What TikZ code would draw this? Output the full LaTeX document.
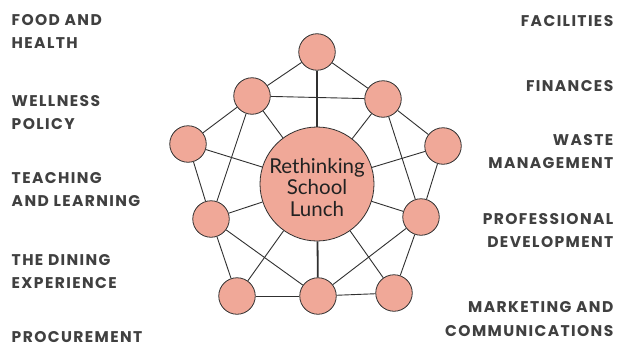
\documentclass[tikz,border=0pt]{standalone}
\usepackage{fontspec}
\setmainfont{Lato}
\newfontfamily\labelfamily{Poppins}[LetterSpace=9]
\definecolor{salmon}{HTML}{F0A898}
\definecolor{edgegray}{HTML}{303030}
\definecolor{labelgray}{HTML}{404040}
\definecolor{centertext}{HTML}{222222}
\begin{document}
\begin{tikzpicture}[x=1pt,y=-1pt,
  smallnode/.style={circle,draw=edgegray,line width=0.8pt,fill=salmon,minimum size=36.5pt,inner sep=0pt},
  bignode/.style={circle,draw=edgegray,line width=0.8pt,fill=salmon,minimum size=114pt,inner sep=0pt},
  centerlabel/.style={align=center,inner sep=0pt,text=centertext,font=\fontsize{20.5}{21.5}\selectfont},
  link/.style={draw=edgegray,line width=0.9pt},
  thicklink/.style={draw=edgegray,line width=1.8pt},
  leftlabel/.style={anchor=base west,align=left,inner sep=0pt,text=labelgray,
    font=\labelfamily\bfseries\fontsize{15.5}{23.5}\selectfont},
  rightlabel/.style={anchor=base east,align=right,inner sep=0pt,text=labelgray,
    font=\labelfamily\bfseries\fontsize{15.5}{23.5}\selectfont}]
\useasboundingbox (0,0) rectangle (617,345);
\fill[white] (0,0) rectangle (617,345);

% nodes
\node[bignode] (C) at (317,184) {};
\node[centerlabel] (Ctext) at (317,187.5) {Rethinking\\School\\Lunch};
\node[smallnode] (T)  at (317,52) {};
\node[smallnode] (UL) at (252,96) {};
\node[smallnode] (UR) at (383,99) {};
\node[smallnode] (L)  at (188,144) {};
\node[smallnode] (R)  at (443,146) {};
\node[smallnode] (ML) at (211,219) {};
\node[smallnode] (MR) at (421,217) {};
\node[smallnode] (BL) at (237,296) {};
\node[smallnode] (BC) at (318,296) {};
\node[smallnode] (BR) at (394,293) {};

% connectors
\draw[thicklink] (T) -- (C);
\draw[thicklink] (BC) -- (C);
\draw[link] (T) -- (UL);
\draw[link] (T) -- (UR);
\draw[link] (UL) -- (UR);
\draw[link] (UL) -- (L);
\draw[link] (UL) -- (C);
\draw[link] (UL) -- (ML);
\draw[link] (UR) -- (C);
\draw[link] (UR) -- (R);
\draw[link] (UR) -- (MR);
\draw[link] (L) -- (C);
\draw[link] (L) -- (ML);
\draw[link] (R) -- (C);
\draw[link] (R) -- (MR);
\draw[link] (ML) -- (C);
\draw[link] (ML) -- (BL);
\draw[link] (ML) -- (BC);
\draw[link] (MR) -- (C);
\draw[link] (MR) -- (BR);
\draw[link] (MR) -- (BC);
\draw[link] (BL) -- (C);
\draw[link] (BR) -- (C);
\draw[link] (BL) -- (BC);
\draw[link] (BC) -- (BR);

% labels (base anchor = baseline of last line)
\node[leftlabel] (food) at (11.5,48.8) {FOOD AND\\HEALTH};
\node[leftlabel] (well) at (11.5,129.5) {WELLNESS\\POLICY};
\node[leftlabel] (teach) at (11.5,206.8) {TEACHING\\AND LEARNING};
\node[leftlabel] (dine) at (11.5,288.5) {THE DINING\\EXPERIENCE};
\node[leftlabel] (proc) at (11.5,342.6) {PROCUREMENT};

\node[rightlabel] (fac) at (613.5,27) {FACILITIES};
\node[rightlabel] (fin) at (613.5,91.5) {FINANCES};
\node[rightlabel] (waste) at (613.5,168.5) {WASTE\\MANAGEMENT};
\node[rightlabel] (prof) at (613.5,247.8) {PROFESSIONAL\\DEVELOPMENT};
\node[rightlabel] (mark) at (613.5,336.3) {MARKETING AND\\COMMUNICATIONS};
\end{tikzpicture}
\end{document}
